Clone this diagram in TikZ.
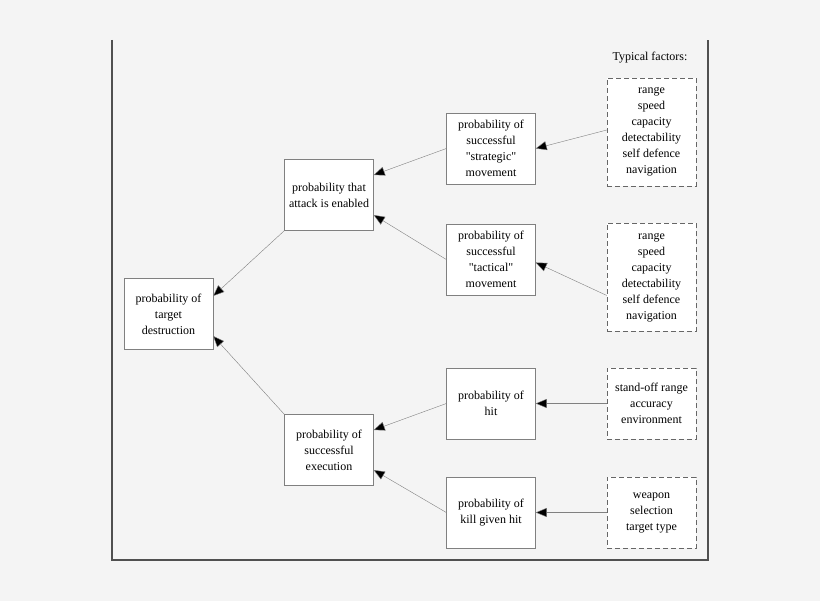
\documentclass[tikz,border=0pt]{standalone}
\usepackage{fontspec}
\setmainfont{Liberation Serif}[Ligatures=TeXOff]
\usetikzlibrary{arrows.meta}
\definecolor{bggray}{HTML}{F4F4F4}
\definecolor{framegray}{HTML}{505050}
\begin{document}
\begin{tikzpicture}[x=1pt,y=-1pt,
  box/.style={draw=gray, fill=white, align=center, inner sep=1pt,
    minimum width=89pt, minimum height=71pt, font=\fontsize{12}{16}\selectfont},
  factor/.style={box, dash pattern=on 5pt off 3pt, draw=gray!80!black},
  arr/.style={draw=gray, -{Triangle[width=9pt,length=11pt,fill=black]}}]

% Background and frame
\fill[bggray] (0,0) rectangle (820,601);
\draw[framegray, line width=1.5pt] (112,40) -- (112,560) -- (708,560) -- (708,40);

% Probability boxes
\node[box] (target) at (168.5,314) {probability of\\target\\destruction};
\node[box] (enabled) at (329,195) {probability that\\attack is enabled};
\node[box] (exec) at (329,450) {probability of\\successful\\execution};
\node[box] (strat) at (491,148.5) {probability of\\successful\\"strategic"\\movement};
\node[box] (tact) at (491,259.5) {probability of\\successful\\"tactical"\\movement};
\node[box] (hit) at (491,403.5) {probability of\\hit};
\node[box] (kill) at (491,512.5) {probability of\\kill given hit};

% Typical factors
\node[font=\fontsize{12}{16}\selectfont] (title) at (650,58) {Typical factors:};
\node[factor, minimum height=108pt] (fstrat) at (651.5,132)
  {range\\speed\\capacity\\detectability\\self defence\\navigation};
\node[factor, minimum height=108pt] (ftact) at (651.5,277.5)
  {range\\speed\\capacity\\detectability\\self defence\\navigation};
\node[factor] (fhit) at (651.5,403.5) {stand-off range\\accuracy\\environment};
\node[factor] (fkill) at (651.5,512.5) {weapon\\selection\\target type};

% Connectors
\draw[arr] (strat.west) -- ([yshift=20pt]enabled.east);
\draw[arr] (tact.west) -- ([yshift=-20pt]enabled.east);
\draw[arr] (hit.west) -- ([yshift=20pt]exec.east);
\draw[arr] (kill.west) -- ([yshift=-20pt]exec.east);
\draw[arr] (enabled.south west) -- ([yshift=18pt]target.east);
\draw[arr] (exec.north west) -- ([yshift=-22pt]target.east);
\draw[arr] ([yshift=2pt]fstrat.west) -- (strat.east);
\draw[arr] ([yshift=-18pt]ftact.west) -- ([yshift=-3pt]tact.east);
\draw[arr] (fhit.west) -- (hit.east);
\draw[arr] (fkill.west) -- (kill.east);

\end{tikzpicture}
\end{document}
